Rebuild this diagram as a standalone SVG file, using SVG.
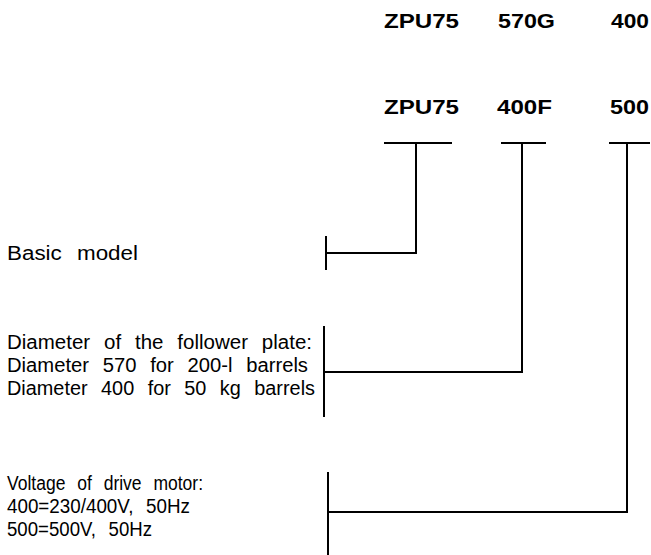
<svg xmlns="http://www.w3.org/2000/svg" width="651" height="555" viewBox="0 0 651 555">
<style>
.code{font-family:"Liberation Sans",Arial,sans-serif;font-weight:bold;font-size:21px;fill:#000}
.lbl{font-family:"Liberation Sans",Arial,sans-serif;font-size:20px;fill:#000;word-spacing:8px}
.ln{stroke:#000;stroke-width:2;fill:none}
</style>
<rect width="651" height="555" fill="#fff"/>
<g id="code1">
<text class="code" x="384" y="28" textLength="75" lengthAdjust="spacingAndGlyphs">ZPU75</text>
<text class="code" x="498" y="28" textLength="57" lengthAdjust="spacingAndGlyphs">570G</text>
<text class="code" x="611" y="28" textLength="38" lengthAdjust="spacingAndGlyphs">400</text>
</g>
<g id="code2">
<text class="code" x="384" y="114" textLength="75" lengthAdjust="spacingAndGlyphs">ZPU75</text>
<text class="code" x="497" y="114" textLength="55" lengthAdjust="spacingAndGlyphs">400F</text>
<text class="code" x="610" y="114" textLength="39" lengthAdjust="spacingAndGlyphs">500</text>
</g>
<g id="basic">
<text class="lbl" x="7" y="260" textLength="131" lengthAdjust="spacingAndGlyphs">Basic  model</text>
</g>
<g id="diameter">
<text class="lbl" x="7" y="349" textLength="305" lengthAdjust="spacingAndGlyphs">Diameter of the follower plate:</text>
<text class="lbl" x="7" y="372" textLength="301" lengthAdjust="spacingAndGlyphs">Diameter 570 for 200-l barrels</text>
<text class="lbl" x="7" y="395" textLength="308" lengthAdjust="spacingAndGlyphs">Diameter 400 for 50 kg barrels</text>
</g>
<g id="voltage">
<text class="lbl" x="7" y="490" textLength="196" lengthAdjust="spacingAndGlyphs">Voltage of drive motor:</text>
<text class="lbl" x="7" y="513" textLength="183" lengthAdjust="spacingAndGlyphs">400=230/400V,  50Hz</text>
<text class="lbl" x="7" y="536" textLength="145" lengthAdjust="spacingAndGlyphs">500=500V,  50Hz</text>
</g>
<g id="connectors">
<path class="ln" d="M384 143H452M416 143V253H326M326 236V270"/>
<path class="ln" d="M501 143H546M522 143V372H324M324 326V417"/>
<path class="ln" d="M609 143H650M627 143V512H328M328 472V555"/>
</g>
</svg>
